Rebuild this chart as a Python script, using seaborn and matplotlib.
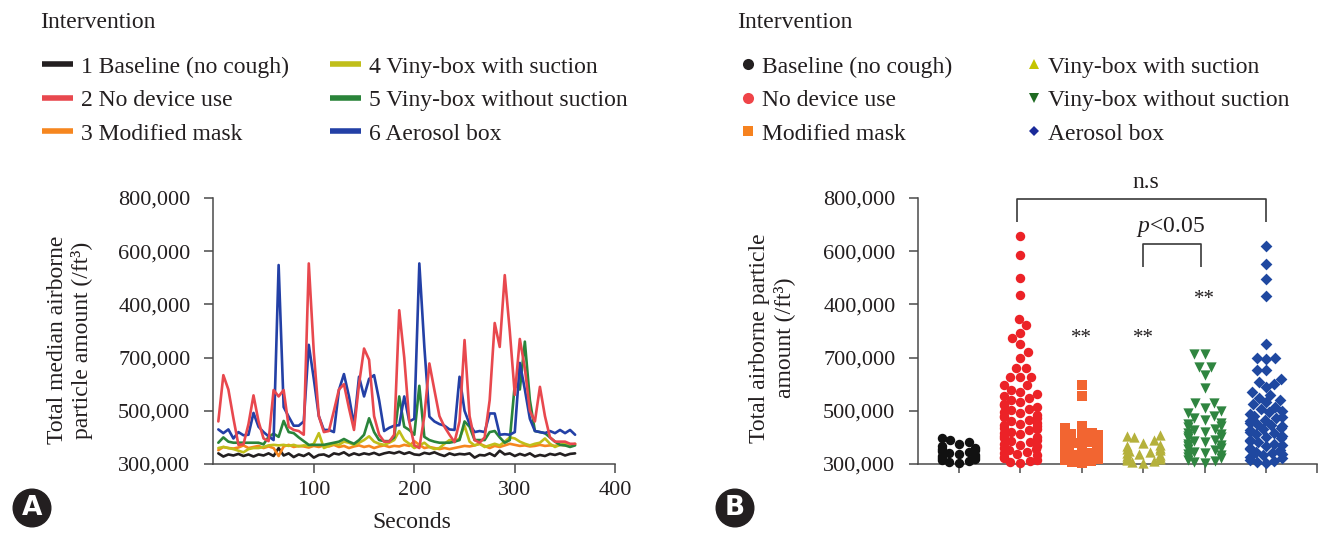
import matplotlib
matplotlib.use("Agg")
import matplotlib.pyplot as plt
import seaborn as sns
import pandas as pd
from matplotlib.lines import Line2D

sns.set_theme(style="ticks")
plt.rcParams['font.family'] = ['Liberation Serif', 'DejaVu Serif']
plt.rcParams['mathtext.fontset'] = 'custom'
plt.rcParams['mathtext.it'] = 'Liberation Serif:italic'
plt.rcParams['mathtext.rm'] = 'Liberation Serif'

# ---------------- Panel A data (values in units of 100,000 /ft3, on the drawn linear scale) ----
seconds = [5, 10, 15, 20, 25, 30, 35, 40, 45, 50, 55, 60, 65, 70, 75, 80, 85, 90, 95, 100,
           105, 110, 115, 120, 125, 130, 135, 140, 145, 150, 155, 160, 165, 170, 175, 180,
           185, 190, 195, 200, 205, 210, 215, 220, 225, 230, 235, 240, 245, 250, 255, 260,
           265, 270, 275, 280, 285, 290, 295, 300, 305, 310, 315, 320, 325, 330, 335, 340,
           345, 350, 355, 360]

baseline_med = [3.20, 3.14, 3.18, 3.16, 3.19, 3.15, 3.18, 3.14, 3.18, 3.16,
                3.20, 3.15, 3.30, 3.16, 3.20, 3.13, 3.18, 3.15, 3.20, 3.12,
                3.17, 3.18, 3.14, 3.20, 3.18, 3.22, 3.16, 3.20, 3.17, 3.20,
                3.18, 3.21, 3.17, 3.20, 3.22, 3.20, 3.23, 3.19, 3.22, 3.18,
                3.17, 3.21, 3.19, 3.22, 3.18, 3.15, 3.20, 3.17, 3.19, 3.18,
                3.20, 3.12, 3.17, 3.16, 3.20, 3.15, 3.25, 3.18, 3.20, 3.15,
                3.19, 3.16, 3.20, 3.14, 3.17, 3.15, 3.19, 3.17, 3.20, 3.16,
                3.19, 3.20]
no_device_med = [3.80, 4.67, 4.40, 3.86, 3.36, 3.37, 3.75, 4.29, 3.80, 3.48,
                 3.43, 4.39, 4.27, 4.39, 3.70, 3.64, 3.62, 3.55, 6.77, 5.10,
                 3.90, 3.60, 3.62, 4.00, 4.40, 4.50, 4.05, 3.64, 4.50, 5.17,
                 4.96, 3.90, 3.55, 3.42, 3.42, 3.55, 5.89, 5.00, 3.80, 3.35,
                 3.30, 3.90, 4.89, 4.39, 3.90, 3.70, 3.55, 3.41, 3.80, 5.33,
                 3.90, 3.45, 3.40, 3.50, 4.20, 5.65, 5.20, 6.55, 5.50, 4.30,
                 5.35, 4.80, 4.00, 3.80, 4.45, 3.90, 3.50, 3.42, 3.42, 3.42,
                 3.38, 3.38]
mask_med = [3.26, 3.32, 3.30, 3.29, 3.31, 3.35, 3.30, 3.32, 3.34, 3.30,
            3.33, 3.30, 3.15, 3.33, 3.36, 3.32, 3.34, 3.33, 3.31, 3.34,
            3.32, 3.35, 3.33, 3.36, 3.32, 3.34, 3.30, 3.33, 3.35, 3.32,
            3.34, 3.30, 3.33, 3.35, 3.32, 3.34, 3.33, 3.36, 3.34, 3.43,
            3.36, 3.30, 3.32, 3.30, 3.28, 3.30, 3.28, 3.30, 3.32, 3.34,
            3.33, 3.35, 3.38, 3.34, 3.30, 3.34, 3.32, 3.35, 3.38, 3.36,
            3.34, 3.35, 3.33, 3.34, 3.36, 3.34, 3.35, 3.34, 3.36, 3.35,
            3.36, 3.37]
viny_suction_med = [3.30, 3.32, 3.30, 3.28, 3.25, 3.22, 3.28, 3.30, 3.30, 3.32,
                    3.35, 3.36, 3.35, 3.36, 3.34, 3.36, 3.33, 3.35, 3.34, 3.38,
                    3.58, 3.30, 3.34, 3.38, 3.36, 3.42, 3.40, 3.36, 3.40, 3.45,
                    3.52, 3.42, 3.38, 3.36, 3.40, 3.45, 3.62, 3.45, 3.38, 3.30,
                    3.35, 3.40, 3.32, 3.28, 3.30, 3.38, 3.45, 3.42, 3.48, 3.72,
                    3.42, 3.35, 3.38, 3.32, 3.35, 3.38, 3.35, 3.42, 3.50, 3.48,
                    3.42, 3.38, 3.35, 3.38, 3.40, 3.48, 3.38, 3.32, 3.36, 3.38,
                    3.35, 3.38]
viny_nosuction_med = [3.40, 3.50, 3.42, 3.40, 3.40, 3.40, 3.40, 3.40, 3.40, 3.37,
                      3.51, 3.57, 3.51, 3.81, 3.60, 3.58, 3.50, 3.43, 3.36, 3.36,
                      3.36, 3.36, 3.38, 3.40, 3.42, 3.47, 3.42, 3.38, 3.45, 3.55,
                      3.86, 3.60, 3.45, 3.43, 3.43, 3.50, 4.27, 3.70, 3.64, 3.55,
                      4.47, 3.51, 3.45, 3.42, 3.40, 3.40, 3.40, 3.42, 3.45, 3.80,
                      3.70, 3.45, 3.45, 3.45, 3.60, 3.62, 3.50, 3.40, 3.45, 4.50,
                      4.40, 5.30, 4.20, 3.62, 3.60, 3.58, 3.50, 3.42, 3.36, 3.35,
                      3.32, 3.35]
aerosol_med = [3.65, 3.58, 3.65, 3.48, 3.60, 3.54, 3.55, 3.96, 3.70, 3.60,
               3.52, 3.45, 6.74, 4.07, 3.89, 3.72, 3.72, 3.80, 5.24, 4.60,
               3.90, 3.64, 3.64, 3.60, 4.39, 4.69, 4.27, 3.73, 4.64, 4.27,
               4.60, 4.67, 4.20, 3.62, 3.68, 3.72, 3.73, 4.27, 3.80, 3.85,
               6.77, 5.20, 3.89, 3.80, 3.75, 3.72, 3.65, 3.64, 4.64, 4.00,
               3.75, 3.60, 3.62, 3.60, 3.95, 3.95, 3.55, 3.56, 3.55, 3.60,
               4.90, 4.40, 3.85, 3.62, 3.60, 3.58, 3.62, 3.58, 3.64, 3.58,
               3.64, 3.55]

names_a = ["1 Baseline (no cough)", "2 No device use", "3 Modified mask",
           "4 Viny-box with suction", "5 Viny-box without suction", "6 Aerosol box"]
colors_a = ["#231f20", "#e8484e", "#f6861f", "#c0be1a", "#2a843a", "#2340a6"]

# ---------------- Panel B data (same units) ----------------
names_b = ["Baseline (no cough)", "No device use", "Modified mask",
           "Viny-box with suction", "Viny-box without suction", "Aerosol box"]
baseline_all = [3.01, 3.03, 3.05, 3.07, 3.09, 3.11, 3.13, 3.15, 3.17, 3.19,
                3.21, 3.23, 3.25, 3.27, 3.29, 3.31, 3.33, 3.38, 3.42, 3.46, 3.48]
no_device_all = [3.01, 3.03, 3.06, 3.08, 3.11, 3.13, 3.16, 3.18, 3.21, 3.23,
                 3.26, 3.28, 3.31, 3.33, 3.36, 3.38, 3.41, 3.43, 3.46, 3.48,
                 3.51, 3.53, 3.56, 3.58, 3.61, 3.63, 3.66, 3.68, 3.71, 3.73,
                 3.76, 3.78, 3.81, 3.83, 3.86, 3.88, 3.91, 3.93, 3.96, 3.98,
                 4.01, 4.04, 4.07, 4.10, 4.13, 4.16, 4.20, 4.24, 4.28, 4.31,
                 4.35, 4.40, 4.48, 4.48, 4.64, 4.64, 4.64, 4.80, 4.80, 5.00,
                 5.11, 5.26, 5.36, 5.47, 5.61, 5.72, 6.18, 6.49, 6.92, 7.29]
mask_all = [3.01, 3.03, 3.05, 3.07, 3.09, 3.11, 3.13, 3.15, 3.17, 3.19,
            3.21, 3.23, 3.25, 3.27, 3.29, 3.31, 3.33, 3.35, 3.37, 3.39,
            3.41, 3.43, 3.45, 3.47, 3.49, 3.51, 3.53, 3.55, 3.56, 3.57,
            3.58, 3.67, 3.71, 4.27, 4.48]
viny_suction_all = [3.01, 3.03, 3.05, 3.07, 3.09, 3.11, 3.13, 3.15, 3.17, 3.19,
                    3.21, 3.23, 3.25, 3.27, 3.29, 3.31, 3.33, 3.35, 3.40, 3.45,
                    3.50, 3.53, 3.55]
viny_nosuction_all = [3.01, 3.03, 3.06, 3.08, 3.11, 3.13, 3.16, 3.18, 3.21, 3.23,
                      3.26, 3.28, 3.31, 3.33, 3.36, 3.38, 3.41, 3.43, 3.46, 3.48,
                      3.51, 3.53, 3.56, 3.58, 3.61, 3.63, 3.66, 3.69, 3.72, 3.75,
                      3.78, 3.82, 3.86, 3.90, 3.95, 4.00, 4.05, 4.15, 4.15, 4.43,
                      4.67, 4.83, 4.83, 5.07, 5.07]
aerosol_all = [3.01, 3.03, 3.06, 3.08, 3.11, 3.13, 3.16, 3.18, 3.21, 3.23,
               3.26, 3.28, 3.31, 3.33, 3.36, 3.38, 3.41, 3.43, 3.46, 3.48,
               3.51, 3.53, 3.56, 3.58, 3.61, 3.63, 3.66, 3.68, 3.71, 3.73,
               3.76, 3.78, 3.81, 3.83, 3.86, 3.88, 3.91, 3.94, 3.97, 4.00,
               4.04, 4.08, 4.12, 4.16, 4.20, 4.25, 4.30, 4.35, 4.45, 4.50,
               4.55, 4.60, 4.77, 4.77, 4.98, 5.00, 5.00, 5.25, 6.16, 6.47,
               6.76, 7.10]
colors_b = ["#111111", "#ec2227", "#f26531", "#b5b13c", "#2f8540", "#1f48a0"]
legend_colors_b = ["#231f20", "#ef4448", "#f6821f", "#c4c400", "#1f6b22", "#1a2a9a"]
markers_b = ["o", "o", "s", "^", "v", "D"]

# y ticks as printed in the original figure
ytick_pos = [3, 4, 5, 6, 7, 8]
ytick_labels = ["300,000", "500,000", "700,000", "400,000", "600,000", "800,000"]

W, H = 1319, 534
fig = plt.figure(figsize=(W / 100, H / 100), dpi=100)

def fx(px):
    return px / W

def fy(py):
    return 1 - py / H

axA = fig.add_axes([fx(213.3), fy(464), fx(615.3 - 213.3), (464 - 198) / H])
axB = fig.add_axes([fx(918.3), fy(464), fx(1317 - 918.3), (464 - 198) / H])

# ---------------- Panel A ----------------
series = [baseline_med, no_device_med, mask_med, viny_suction_med, viny_nosuction_med, aerosol_med]
rows = []
for nm, vals in zip(names_a, series):
    for t, v in zip(seconds, vals):
        rows.append({"Seconds": t, "value": v, "Intervention": nm})
dfA = pd.DataFrame(rows)
draw_order = [names_a[i] for i in [0, 2, 3, 4, 5, 1]]
sns.lineplot(data=dfA, x="Seconds", y="value", hue="Intervention", hue_order=draw_order,
             palette=dict(zip(names_a, colors_a)), linewidth=1.9, legend=False, ax=axA)
axA.set_xlim(0, 400)
axA.set_ylim(3, 8)
axA.set_xticks([100, 200, 300, 400])
axA.set_xlabel("")
axA.set_ylabel("")

# ---------------- Panel B ----------------
# categories are placed 1.5 units apart so the swarm width (0.8 unit) stays narrow
step = 1.5
groups = [baseline_all, no_device_all, mask_all, viny_suction_all, viny_nosuction_all, aerosol_all]
sizes_b = [6.8, 6.8, 6.6, 7.4, 7.4, 6.0]
for i, (vals, c, m, s) in enumerate(zip(groups, colors_b, markers_b, sizes_b)):
    sns.swarmplot(x=[i * step] * len(vals), y=vals, native_scale=True, orient="x",
                  color=c, marker=m, size=s, linewidth=0, ax=axB, clip_on=False,
                  zorder=3, warn_thresh=1.0)
axB.set_xlim(-0.66 * step, 5.83 * step)
axB.set_ylim(3, 8)
axB.set_xticks([i * step for i in range(6)])
axB.set_xticklabels([])
axB.set_xticks([5.83 * step], minor=True)
axB.set_xlabel("")
axB.set_ylabel("")

spine_col = "#4a4a4a"
for ax in (axA, axB):
    sns.despine(ax=ax)
    for sp in ("left", "bottom"):
        ax.spines[sp].set_color(spine_col)
        ax.spines[sp].set_linewidth(1.1)
    ax.set_yticks(ytick_pos)
    ax.set_yticklabels(ytick_labels)
    ax.tick_params(axis="both", which="both", direction="out", length=6.5, width=1.1,
                   color=spine_col, labelsize=16, labelcolor="#231f20")
    ax.tick_params(axis="y", pad=10)
    ax.tick_params(axis="x", pad=6)
    ax.patch.set_alpha(0)

# brackets and significance marks in panel B
bk = dict(color="#3a3a3a", lw=1.2, clip_on=False, solid_capstyle="butt")
axB.plot([0.95 * step, 0.95 * step, 5.0 * step, 5.0 * step], [7.55, 7.98, 7.98, 7.55], **bk)
axB.plot([3.0 * step, 3.0 * step, 3.94 * step, 3.94 * step], [6.71, 7.14, 7.14, 6.71], **bk)
axB.text(3.05 * step, 8.3, "n.s", ha="center", va="center", fontsize=17, color="#231f20",
         clip_on=False)
axB.text(3.45 * step, 7.46, r"$p$<0.05", ha="center", va="center", fontsize=17,
         color="#231f20", clip_on=False)
for xi, ypos in [(2, 5.35), (3, 5.35), (4, 6.10)]:
    axB.text(xi * step, ypos, "**", ha="center", va="center", fontsize=15, color="#231f20")

# axis labels
fig.text(fx(70), fy(340), "Total median airborne\nparticle amount (/ft³)", rotation=90,
         ha="center", va="center", multialignment="center", fontsize=17, color="#231f20",
         linespacing=1.15)
fig.text(fx(772), fy(338), "Total airborne particle\namount (/ft³)", rotation=90,
         ha="center", va="center", multialignment="center", fontsize=17, color="#231f20",
         linespacing=1.15)
fig.text(fx(412), fy(523), "Seconds", ha="center", va="center", fontsize=17, color="#231f20")

# legends
fig.text(fx(40), fy(22), "Intervention", ha="left", va="center", fontsize=17, color="#231f20")
fig.text(fx(737), fy(22), "Intervention", ha="left", va="center", fontsize=17, color="#231f20")

handles_a = [Line2D([], [], color=c, lw=4, solid_capstyle="butt") for c in colors_a]
fig.legend(handles_a, names_a, ncol=2, loc="upper left", bbox_to_anchor=(fx(42), fy(56)),
           frameon=False, fontsize=17, handlelength=1.3, handletextpad=0.35,
           columnspacing=1.75, labelspacing=0.51, borderpad=0, borderaxespad=0,
           labelcolor="#231f20")
ms_b = [8, 8, 7.5, 6.5, 6.5, 5.5]
handles_b = [Line2D([], [], color=c, marker=m, linestyle="", markersize=s, markeredgewidth=0)
             for c, m, s in zip(legend_colors_b, markers_b, ms_b)]
fig.legend(handles_b, names_b, ncol=2, loc="upper left", bbox_to_anchor=(fx(741), fy(56)),
           frameon=False, fontsize=17, handlelength=0.6, handletextpad=0.3,
           columnspacing=3.15, labelspacing=0.51, borderpad=0, borderaxespad=0,
           labelcolor="#231f20")

# panel badges
for x, lab in [(32, "A"), (735, "B")]:
    fig.text(fx(x), fy(508), lab, ha="center", va="center", fontsize=19, fontweight="bold",
             family="DejaVu Sans", color="white",
             bbox=dict(boxstyle="circle,pad=0.22", fc="#231f20", ec="#231f20"))

fig.savefig("out.png", dpi=100)
